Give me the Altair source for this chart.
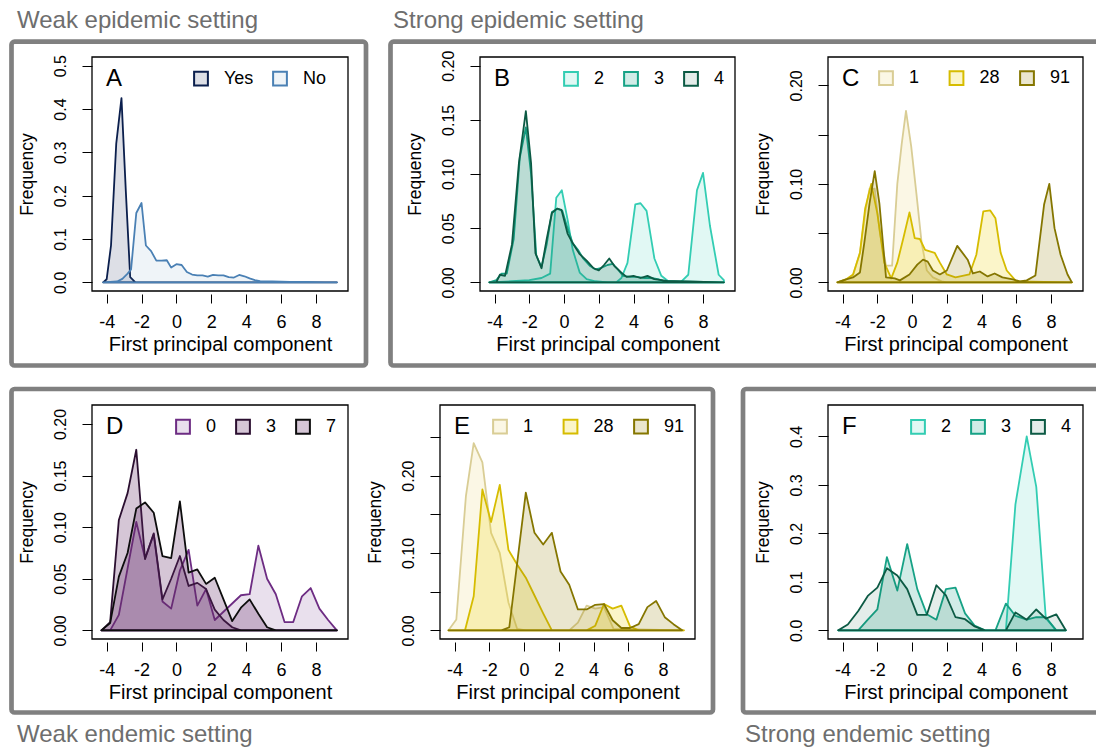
import altair as alt
import pandas as pd

FONT = "Liberation Sans"
XDOM = [-4.84, 9.84]
XTICKS = [-4, -2, 0, 2, 4, 6, 8]

# ---------------- Panel A (weak epidemic) ----------------
A_names = ["Yes", "No"]
A_yes_x = [-4.2, -4.0, -3.75, -3.45, -3.15, -2.9, -2.65, -2.35, 9.2]
A_yes_y = [0.0, 0.007, 0.085, 0.32, 0.425, 0.21, 0.012, 0.0, 0.0]
A_no_x = [-4.2, -3.4, -3.1, -2.8, -2.6, -2.3, -2.0, -1.75, -1.45, -1.15, -0.85, -0.55, -0.3, 0.0,
          0.3, 0.6, 0.9, 1.2, 1.5, 1.8, 2.1, 2.4, 2.7, 3.0, 3.3, 3.6, 3.9, 4.2, 4.5, 4.8, 5.5,
          6.5, 7.5, 8.5, 9.2]
A_no_y = [0.0, 0.002, 0.008, 0.02, 0.03, 0.16, 0.183, 0.085, 0.072, 0.05, 0.05, 0.051, 0.034, 0.042,
          0.04, 0.024, 0.018, 0.016, 0.016, 0.013, 0.017, 0.016, 0.016, 0.012, 0.011, 0.017, 0.014,
          0.009, 0.005, 0.003, 0.002, 0.001, 0.001, 0.0, 0.0]

# ---------------- Panel B (strong epidemic, 2/3/4) ----------------
B_names = ["2", "3", "4"]
B2_x = [-4.3, -3.0, -2.0, -1.3, -0.8, -0.45, -0.13, 0.2, 0.5, 0.9, 1.3, 1.8, 2.5, 3.0, 3.3, 3.65,
        4.1, 4.4, 4.75, 5.2, 5.6, 6.0, 6.7, 7.15, 7.65, 8.0, 8.4, 8.9, 9.2]
B2_y = [0.0, 0.001, 0.002, 0.004, 0.008, 0.078, 0.085, 0.058, 0.03, 0.009, 0.003, 0.001, 0.0, 0.0,
        0.004, 0.018, 0.072, 0.073, 0.066, 0.022, 0.006, 0.001, 0.0, 0.007, 0.085, 0.101, 0.052,
        0.007, 0.002]
B3_x = [-4.3, -3.9, -3.6, -3.3, -2.9, -2.55, -2.2, -1.9, -1.6, -1.3, -1.0, -0.7, -0.4, -0.1, 0.2,
        0.5, 0.8, 1.1, 1.5, 1.8, 2.1, 2.5, 2.8, 3.1, 3.4, 3.8, 4.2, 4.6, 5.0, 5.4, 5.8, 6.2, 9.2]
B3_y = [0.0, 0.002, 0.008, 0.008, 0.04, 0.115, 0.143, 0.1, 0.025, 0.014, 0.035, 0.065, 0.068, 0.066,
        0.05, 0.036, 0.03, 0.022, 0.015, 0.012, 0.013, 0.016, 0.017, 0.012, 0.006, 0.005, 0.005,
        0.004, 0.004, 0.003, 0.001, 0.001, 0.0]
B4_x = [-4.3, -3.9, -3.7, -3.4, -3.0, -2.6, -2.2, -1.9, -1.65, -1.3, -1.0, -0.7, -0.4, -0.15, 0.2,
        0.5, 0.9, 1.3, 1.7, 2.0, 2.3, 2.6, 2.9, 3.3, 3.6, 4.0, 4.4, 4.8, 5.2, 5.6, 6.0, 6.4, 9.2]
B4_y = [0.0, 0.0, 0.007, 0.006, 0.035, 0.11, 0.158, 0.11, 0.027, 0.013, 0.04, 0.064, 0.068, 0.067,
        0.045, 0.036, 0.026, 0.02, 0.013, 0.011, 0.016, 0.022, 0.015, 0.009, 0.005, 0.006, 0.004,
        0.006, 0.003, 0.002, 0.001, 0.001, 0.0]

# ---------------- Panel C (strong epidemic, 1/28/91) ----------------
C_names = ["1", "28", "91"]
C1_x = [-4.3, -3.8, -3.4, -3.0, -2.7, -2.45, -2.15, -1.85, -1.5, -1.15, -0.85, -0.6, -0.35, -0.05,
        0.25, 0.55, 0.85, 1.2, 1.7, 2.0, 9.2]
C1_y = [0.0, 0.003, 0.007, 0.03, 0.07, 0.095, 0.095, 0.05, 0.017, 0.017, 0.1, 0.14, 0.174, 0.138,
        0.09, 0.04, 0.012, 0.005, 0.001, 0.0, 0.0]
C28_x = [-4.3, -3.8, -3.4, -3.0, -2.7, -2.35, -2.0, -1.6, -1.2, -0.85, -0.5, -0.15, 0.15, 0.45, 0.75,
         1.3, 1.6, 2.0, 2.5, 3.3, 3.7, 4.1, 4.5, 4.8, 5.1, 5.45, 6.0, 9.2]
C28_y = [0.0, 0.003, 0.008, 0.03, 0.075, 0.1, 0.07, 0.02, 0.004, 0.02, 0.045, 0.071, 0.045, 0.044,
         0.033, 0.03, 0.02, 0.008, 0.005, 0.008, 0.028, 0.072, 0.073, 0.065, 0.03, 0.012, 0.001, 0.0]
C91_x = [-4.3, -3.8, -3.4, -3.0, -2.75, -2.45, -2.15, -1.88, -1.5, -1.0, -0.7, -0.15, 0.3, 0.63, 0.9,
         1.2, 1.6, 2.0, 2.6, 3.2, 3.5, 3.9, 4.35, 4.75, 5.2, 5.8, 6.2, 6.6, 7.1, 7.6, 7.9, 8.2, 8.55,
         8.95, 9.2]
C91_y = [0.0, 0.003, 0.005, 0.01, 0.04, 0.08, 0.113, 0.08, 0.005, 0.004, 0.002, 0.008, 0.018, 0.023,
         0.021, 0.012, 0.008, 0.012, 0.037, 0.023, 0.009, 0.011, 0.006, 0.009, 0.005, 0.003, 0.001,
         0.002, 0.007, 0.079, 0.1, 0.055, 0.028, 0.008, 0.0]

# ---------------- Panel D (weak endemic, 0/3/7) ----------------
D_names = ["0", "3", "7"]
D_x = [-4.3, -3.8, -3.3, -2.8, -2.3, -1.8, -1.3, -0.8, -0.3, 0.2, 0.7, 1.2, 1.7, 2.2, 2.7, 3.2, 3.7,
       4.2, 4.7, 5.2, 5.7, 6.2, 6.7, 7.2, 7.7, 8.2, 8.7, 9.2]
D0_y = [0.0, 0.0, 0.015, 0.06, 0.105, 0.07, 0.093, 0.028, 0.021, 0.058, 0.078, 0.024, 0.04, 0.01,
        0.018, 0.026, 0.034, 0.035, 0.082, 0.05, 0.035, 0.008, 0.008, 0.033, 0.041, 0.021, 0.01, 0.0]
D3_y = [0.0, 0.008, 0.107, 0.133, 0.175, 0.069, 0.094, 0.03, 0.05, 0.072, 0.043, 0.046, 0.04, 0.02,
        0.01, 0.003, 0.0, 0.0, 0.0, 0.0, 0.0, 0.0, 0.0, 0.0, 0.0, 0.0, 0.0, 0.0]
D7_y = [0.0, 0.007, 0.052, 0.075, 0.118, 0.124, 0.114, 0.072, 0.07, 0.125, 0.056, 0.059, 0.045, 0.051,
        0.03, 0.009, 0.022, 0.03, 0.016, 0.003, 0.0, 0.0, 0.0, 0.0, 0.0, 0.0, 0.0, 0.0]

# ---------------- Panel E (weak endemic, 1/28/91) ----------------
E_names = ["1", "28", "91"]
E1_x = [-4.35, -3.9, -3.35, -2.9, -2.4, -1.9, -1.4, -0.9, -0.4, 0.1, 2.6, 3.1, 3.6, 4.1, 4.6, 5.15, 9.2]
E1_y = [0.0, 0.014, 0.173, 0.242, 0.217, 0.126, 0.1, 0.036, 0.002, 0.0, 0.0, 0.01, 0.032, 0.028,
        0.03, 0.002, 0.0]
E28_x = [-4.35, -3.4, -2.9, -2.4, -1.9, -1.4, -0.9, -0.4, 0.1, 0.6, 1.1, 1.6, 3.6, 4.1, 4.6, 5.1,
         5.6, 6.1, 6.6, 9.2]
E28_y = [0.0, 0.0, 0.044, 0.182, 0.14, 0.188, 0.104, 0.085, 0.068, 0.045, 0.022, 0.0, 0.0, 0.006,
         0.034, 0.028, 0.032, 0.005, 0.0, 0.0]
E91_x = [-4.35, -1.3, -0.85, 0.1, 0.6, 1.1, 1.6, 2.1, 2.6, 3.1, 3.6, 4.1, 4.6, 5.1, 5.6, 6.1, 6.6,
         7.1, 7.6, 8.1, 8.6, 9.1]
E91_y = [0.0, 0.0, 0.004, 0.178, 0.126, 0.111, 0.126, 0.076, 0.059, 0.027, 0.027, 0.033, 0.034,
         0.013, 0.003, 0.003, 0.008, 0.03, 0.038, 0.017, 0.008, 0.0]

# ---------------- Panel F (strong endemic, 2/3/4) ----------------
F_names = ["2", "3", "4"]
F_x = [-4.25, -3.7, -3.1, -2.55, -2.0, -1.45, -0.85, -0.28, 0.3, 0.85, 1.4, 1.95, 2.5, 3.05, 3.6,
       4.2, 4.8, 5.4, 5.95, 6.6, 7.15, 7.7, 8.3, 8.85]
F2_y = [0.0, 0.0, 0.0, 0.0, 0.0, 0.0, 0.0, 0.0, 0.0, 0.0, 0.0, 0.0, 0.0, 0.0, 0.0, 0.0, 0.0, 0.0,
        0.26, 0.4, 0.296, 0.025, 0.0, 0.0]
F3_y = [0.0, 0.0, 0.0, 0.022, 0.043, 0.151, 0.082, 0.178, 0.085, 0.033, 0.022, 0.085, 0.088, 0.035,
        0.01, 0.0, 0.0, 0.055, 0.03, 0.022, 0.027, 0.027, 0.0, 0.0]
F4_y = [0.0, 0.012, 0.04, 0.071, 0.088, 0.128, 0.113, 0.085, 0.032, 0.032, 0.093, 0.072, 0.027, 0.023,
        0.008, 0.0, 0.0, 0.0, 0.037, 0.022, 0.043, 0.024, 0.033, 0.0]

# ---------------- colours ----------------
A_strokes = ["#0b1f4d", "#4a80b4"]
A_fills = ["rgba(11,31,77,0.14)", "rgba(74,128,180,0.09)"]
TEAL_strokes = ["#33cdb3", "#17a286", "#0c5a44"]
TEAL_fills = ["rgba(51,205,179,0.15)", "rgba(23,162,134,0.2)", "rgba(12,90,68,0.11)"]
YEL_strokes = ["#d9cd95", "#d6bc00", "#857600"]
YEL_fills = ["rgba(240,225,150,0.25)", "rgba(240,215,40,0.25)", "rgba(150,130,10,0.2)"]
PUR_strokes = ["#6d2c83", "#2b0f30", "#0d0d0d"]
PUR_fills = ["rgba(120,60,140,0.16)", "rgba(100,45,105,0.27)", "rgba(100,45,105,0.27)"]


def build_df(names, xs_list, ys_list):
    rows = []
    for n, xs, ys in zip(names, xs_list, ys_list):
        for x, y in zip(xs, ys):
            rows.append({"x": x, "y": y, "g": n})
    return pd.DataFrame(rows)


def panel(letter, names, xs_list, ys_list, strokes, fills, box, ydom, yticks, yfmt,
          skip_labels, legend_left, legend_cy, grid_all):
    L, T, R, B = box
    df = build_df(names, xs_list, ys_list)
    xs = alt.Scale(domain=XDOM, range=[L, R], nice=False, zero=False)
    ys = alt.Scale(domain=ydom, range=[B, T], nice=False, zero=False)
    fmt_call = "format(datum.value, '" + yfmt + "')"
    if skip_labels:
        lexpr = "abs(round(datum.value*100)) % 10 == 0 ? " + fmt_call + " : ''"
    else:
        lexpr = fmt_call
    xaxis = alt.Axis(values=XTICKS, labelExpr="'' + datum.value", orient="bottom",
                     offset=B + 3 - 749, domain=False, grid=False, tickSize=9,
                     tickColor="black", tickWidth=1, labelFontSize=18, labelFont=FONT,
                     labelColor="black", labelPadding=10, labelOverlap=False, labelFlush=False,
                     title="First principal component", titleFont=FONT, titleFontSize=20,
                     titleFontWeight="normal", titleColor="black", titlePadding=3)
    yaxis = alt.Axis(values=yticks, labelExpr=lexpr, orient="left", offset=-L, domain=False,
                     grid=False, tickSize=10, tickColor="black", tickWidth=1, labelAngle=270,
                     labelAlign="center", labelBaseline="bottom", labelFontSize=16,
                     labelFont=FONT, labelColor="black", labelPadding=14, labelOverlap=False,
                     labelFlush=False, title="Frequency", titleFont=FONT, titleFontSize=17.5,
                     titleFontWeight="normal", titleColor="black", titlePadding=16)
    legend = alt.Legend(orient="none", legendX=legend_left - 1, legendY=legend_cy - 9,
                        direction="horizontal", symbolType="square", symbolSize=190,
                        symbolStrokeWidth=2, labelFontSize=18, labelFont=FONT,
                        labelColor="black", labelOffset=14,
                        columnPadding=15.5 if grid_all else 15,
                        gridAlign="all" if grid_all else "each", padding=0)
    area = alt.Chart(df).mark_area(strokeWidth=1.8, strokeJoin="round", opacity=1).encode(
        x=alt.X("x:Q", scale=xs, axis=xaxis),
        y=alt.Y("y:Q", scale=ys, axis=yaxis, stack=False),
        fill=alt.Fill("g:N", scale=alt.Scale(domain=names, range=fills), legend=legend, title=None),
        stroke=alt.Stroke("g:N", scale=alt.Scale(domain=names, range=strokes), legend=legend,
                          title=None),
    )
    boxdf = pd.DataFrame({"x": [XDOM[0]], "x2": [XDOM[1]], "y": [ydom[0]], "y2": [ydom[1]]})
    frame = alt.Chart(boxdf).mark_rect(fillOpacity=0, stroke="black", strokeWidth=1.3).encode(
        x=alt.X("x:Q", scale=xs, axis=xaxis), x2="x2:Q",
        y=alt.Y("y:Q", scale=ys, axis=yaxis), y2="y2:Q")
    lab = alt.Chart(pd.DataFrame({"t": [letter]})).mark_text(
        align="left", baseline="alphabetic", fontSize=24, font=FONT, color="black"
    ).encode(text="t:N", x=alt.value(L + 14), y=alt.value(T + 29))
    return alt.layer(area, frame, lab)


pA = panel("A", A_names, [A_yes_x, A_no_x], [A_yes_y, A_no_y], A_strokes, A_fills,
           (92, 57, 348, 291), [-0.02, 0.52], [0, 0.1, 0.2, 0.3, 0.4, 0.5], ".1f", False,
           193, 78.5, False)
pB = panel("B", B_names, [B2_x, B3_x, B4_x], [B2_y, B3_y, B4_y], TEAL_strokes, TEAL_fills,
           (480, 57, 735, 291), [-0.008, 0.208], [0, 0.05, 0.1, 0.15, 0.2], ".2f", False,
           563, 78.8, False)
pC = panel("C", C_names, [C1_x, C28_x, C91_x], [C1_y, C28_y, C91_y], YEL_strokes, YEL_fills,
           (828, 57, 1083, 291), [-0.0088, 0.2288], [0, 0.05, 0.1, 0.15, 0.2], ".2f", True,
           878, 78, True)
pD = panel("D", D_names, [D_x, D_x, D_x], [D0_y, D3_y, D7_y], PUR_strokes, PUR_fills,
           (92, 405, 348, 639), [-0.0084, 0.2184], [0, 0.05, 0.1, 0.15, 0.2], ".2f", False,
           175, 426.7, False)
pE = panel("E", E_names, [E1_x, E28_x, E91_x], [E1_y, E28_y, E91_y], YEL_strokes, YEL_fills,
           (440, 405, 695, 639), [-0.0112, 0.2912], [0, 0.05, 0.1, 0.15, 0.2, 0.25], ".2f", True,
           492, 426.5, True)
pF = panel("F", F_names, [F_x, F_x, F_x], [F2_y, F3_y, F4_y], TEAL_strokes, TEAL_fills,
           (828, 405, 1083, 639), [-0.0179, 0.4649], [0, 0.1, 0.2, 0.3, 0.4], ".1f", False,
           910, 426.8, False)

# ---------------- decorations: grey frames and setting titles ----------------
one = pd.DataFrame({"a": [0]})
GREY = "#808080"


def frame_rect(x1, x2, y1, y2):
    return alt.Chart(one).mark_rect(fillOpacity=0, stroke=GREY, strokeWidth=4.7,
                                    cornerRadius=3).encode(
        x=alt.value(x1), x2=alt.value(x2), y=alt.value(y1), y2=alt.value(y2))


def setting_title(txt, x, y):
    return alt.Chart(one).mark_text(text=txt, align="left", baseline="alphabetic", fontSize=24,
                                    font=FONT, color="#6e6e6e").encode(
        x=alt.value(x), y=alt.value(y))


decor = [
    frame_rect(11.5, 366, 41.7, 365.5),
    frame_rect(390.5, 1110, 41.7, 365.5),
    frame_rect(11.5, 713, 389, 712.5),
    frame_rect(743, 1110, 389, 712.5),
    setting_title("Weak epidemic setting", 17, 28),
    setting_title("Strong epidemic setting", 393, 28),
    setting_title("Weak endemic setting", 17, 741.5),
    setting_title("Strong endemic setting", 745, 741.5),
]

chart = alt.layer(*decor, pA, pB, pC, pD, pE, pF).resolve_scale(
    x="independent", y="independent", fill="independent", stroke="independent"
).resolve_axis(x="independent", y="independent").resolve_legend(
    fill="independent", stroke="independent"
).properties(
    width=1096, height=749, padding=0, autosize=alt.AutoSizeParams(type="none"),
    background="white"
).configure_view(strokeWidth=0)

chart.save("out.html", embed_options={"renderer": "svg", "actions": False})
